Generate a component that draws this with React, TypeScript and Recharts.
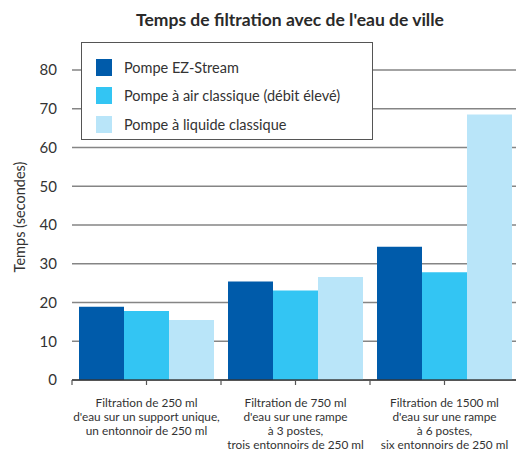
import React from "react"
import { BarChart, Bar, XAxis, YAxis, CartesianGrid } from "recharts"

const categories = [
  ["Filtration de 250 ml", "d'eau sur un support unique,", "un entonnoir de 250 ml"],
  ["Filtration de 750 ml", "d'eau sur une rampe", "à 3 postes,", "trois entonnoirs de 250 ml"],
  ["Filtration de 1500 ml", "d'eau sur une rampe", "à 6 postes,", "six entonnoirs de 250 ml"],
]
const ezStream = [18.9, 25.4, 34.4]
const airPump = [17.8, 23.1, 27.8]
const liquidPump = [15.5, 26.6, 68.5]
const yTicks = [0, 10, 20, 30, 40, 50, 60, 70, 80]

const series = [
  { key: "ez", name: "Pompe EZ-Stream", color: "#005BAA" },
  { key: "air", name: "Pompe à air classique (débit élevé)", color: "#33C5F3" },
  { key: "liquid", name: "Pompe à liquide classique", color: "#B9E5F9" },
]

const data = categories.map((lines, i) => ({
  name: lines.join("\n"),
  ez: ezStream[i],
  air: airPump[i],
  liquid: liquidPump[i],
}))

const FONT = "Lato, 'Open Sans', sans-serif"

function CategoryTick(props: any) {
  const { x, y, payload, index } = props
  const half = payload?.offset ?? 74.5
  const lines = String(payload.value).split("\n")
  return (
    <g>
      <line x1={x} x2={x} y1={y} y2={y + 5} stroke="#555" strokeWidth={1.2} />
      <line x1={x - half} x2={x - half} y1={y} y2={y + 5} stroke="#555" strokeWidth={1.2} />
      {index === categories.length - 1 && (
        <line x1={x + half} x2={x + half} y1={y} y2={y + 5} stroke="#555" strokeWidth={1.2} />
      )}
      {lines.map((l, i) => (
        <text key={i} x={x} y={y + 26.5 + i * 14.3} textAnchor="middle" fontSize={11.8} fill="#333" fontFamily={FONT}>
          {l}
        </text>
      ))}
    </g>
  )
}

function LegendBox() {
  return (
    <div
      style={{
        position: "absolute",
        left: 81,
        top: 42,
        width: 290,
        height: 86,
        border: "1.5px solid #555",
        background: "#fff",
        fontFamily: FONT,
        fontSize: 14.5,
        color: "#333",
        paddingTop: 10,
      }}
    >
      {series.map((s) => (
        <div key={s.key} style={{ display: "flex", alignItems: "center", height: 28.5 }}>
          <div style={{ width: 16, height: 17, background: s.color, marginLeft: 14, marginRight: 12 }} />
          <span>{s.name}</span>
        </div>
      ))}
    </div>
  )
}

function YLabel() {
  const cx = 19
  const cy = 217
  return (
    <text
      x={cx}
      y={cy}
      transform={`rotate(-90 ${cx} ${cy})`}
      textAnchor="middle"
      dominantBaseline="central"
      fontSize={14.5}
      fill="#333"
      fontFamily={FONT}
    >
      Temps (secondes)
    </text>
  )
}

export default function App() {
  return (
    <div style={{ position: "absolute", left: 0, top: 0, width: 516, height: 452, overflow: "hidden", background: "#fff" }}>
      <div
        style={{
          position: "absolute",
          top: 9,
          left: 72,
          width: 436,
          textAlign: "center",
          fontFamily: FONT,
          fontWeight: 700,
          fontSize: 17.5,
          color: "#2a2a2a",
        }}
      >
        Temps de filtration avec de l'eau de ville
      </div>
      <BarChart
        width={519}
        height={452}
        data={data}
        margin={{ top: 70, right: 0, bottom: 0, left: 0 }}
        barCategoryGap={7}
        barGap={0}
      >
        <CartesianGrid vertical={false} stroke="#858585" strokeWidth={1.5} />
        <XAxis
          dataKey="name"
          height={72}
          tick={<CategoryTick />}
          tickLine={false}
          tickSize={0}
          tickMargin={0}
          interval={0}
          axisLine={{ stroke: "#333", strokeOpacity: 0.7, strokeWidth: 2 }}
        />
        <YAxis
          width={72}
          domain={[0, 80]}
          ticks={yTicks}
          interval={0}
          axisLine={false}
          tickLine={false}
          tickMargin={9}
          tick={{ fontSize: 15, fill: "#333", fontFamily: FONT }}
          label={<YLabel />}
        />
        {series.map((s) => (
          <Bar key={s.key} dataKey={s.key} name={s.name} fill={s.color} isAnimationActive={false} />
        ))}
      </BarChart>
      <LegendBox />
    </div>
  )
}
